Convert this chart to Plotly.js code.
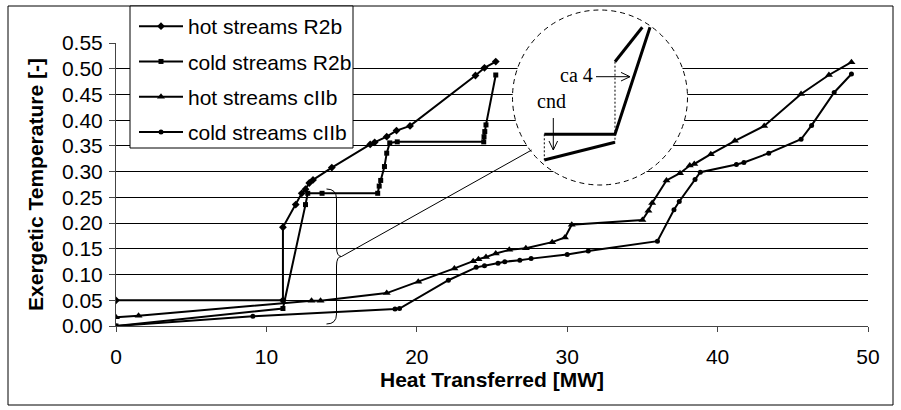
<!DOCTYPE html>
<html>
<head>
<meta charset="utf-8">
<script src="https://cdn.plot.ly/plotly-3.0.1.min.js"></script>
<style>html,body{margin:0;padding:0;background:#fff;}#chart{width:901px;height:410px;}</style>
</head>
<body>
<div id="chart"></div>
<script>
// ---- data ----
const hotR2bX = [0, 11.1, 11.1, 11.95, 12.35, 12.6, 12.85, 13.1, 14.35, 16.9, 17.2, 18.0, 18.65, 19.55, 23.9, 24.5, 25.25];
const hotR2bY = [0.05, 0.05, 0.192, 0.236, 0.258, 0.266, 0.278, 0.284, 0.308, 0.353, 0.357, 0.368, 0.38, 0.389, 0.487, 0.502, 0.514];

const coldR2bX = [0, 11.1, 12.6, 12.75, 13.7, 17.4, 17.5, 17.6, 17.85, 18.0, 18.2, 18.7, 24.45, 24.47, 24.52, 24.6, 25.25];
const coldR2bY = [0, 0.034, 0.236, 0.258, 0.258, 0.258, 0.272, 0.283, 0.31, 0.336, 0.356, 0.358, 0.358, 0.368, 0.378, 0.391, 0.488];

const hotCIIbX = [0, 1.5, 13.0, 13.6, 18.0, 20.1, 22.5, 23.75, 24.1, 24.6, 25.25, 26.15, 27.25, 29.0, 29.85, 30.3, 35.0, 35.4, 35.65, 36.6, 37.5, 38.15, 38.45, 39.55, 41.15, 43.1, 45.55, 47.4, 48.9];
const hotCIIbY = [0.017, 0.02, 0.049, 0.049, 0.064, 0.086, 0.112, 0.126, 0.13, 0.134, 0.141, 0.148, 0.151, 0.163, 0.172, 0.197, 0.206, 0.224, 0.239, 0.283, 0.297, 0.312, 0.315, 0.334, 0.36, 0.389, 0.451, 0.488, 0.513];

const coldCIIbX = [0, 9.1, 18.55, 18.85, 22.1, 23.95, 24.5, 25.4, 25.85, 26.85, 27.6, 30.0, 31.4, 36.0, 37.1, 37.45, 38.5, 38.85, 41.25, 41.75, 43.4, 45.55, 46.25, 47.75, 48.9];
const coldCIIbY = [0, 0.019, 0.033, 0.034, 0.089, 0.114, 0.117, 0.122, 0.125, 0.128, 0.131, 0.139, 0.146, 0.165, 0.226, 0.242, 0.285, 0.299, 0.314, 0.318, 0.336, 0.363, 0.39, 0.454, 0.49];

const seriesNames = ['hot streams R2b', 'cold streams R2b', 'hot streams cIIb', 'cold streams cIIb'];
const xTitle = 'Heat Transferred [MW]';
const yTitle = 'Exergetic Temperature [-]';
const insetLabels = ['cnd', 'ca 4'];

// ---- layout geometry (pixels) ----
const PL = 116, PR = 868, PT = 43, PB = 326;
const px = v => (v - PL) / (PR - PL);
const py = v => (PB - v) / (PB - PT);
const P = (x, y) => px(x).toFixed(5) + ',' + py(y).toFixed(5);

const FONT = 'Arial, "Liberation Sans", sans-serif';
const SERIF = '"Times New Roman", "Liberation Serif", serif';
const FS = 21;

const lineStyle = {color: '#000', width: 2};
const traces = [
  {x: hotR2bX, y: hotR2bY, name: seriesNames[0], legendgroup: 'a', mode: 'lines+markers', line: lineStyle,
   marker: {symbol: 'diamond', size: 6, color: '#000'}},
  {x: coldR2bX, y: coldR2bY, name: seriesNames[1], legendgroup: 'b', mode: 'lines+markers', line: lineStyle,
   marker: {symbol: 'square', size: 5, color: '#000'}},
  {x: hotCIIbX, y: hotCIIbY, name: seriesNames[2], legendgroup: 'c', mode: 'lines+markers', line: lineStyle,
   marker: {symbol: 'triangle-up', size: 7, color: '#000'}},
  {x: coldCIIbX, y: coldCIIbY, name: seriesNames[3], legendgroup: 'd', mode: 'lines+markers', line: lineStyle,
   marker: {symbol: 'circle', size: 5, color: '#000'}}
];

const thin = {color: '#000', width: 1};
const shapes = [
  // outer chart border
  {type: 'rect', xref: 'paper', yref: 'paper', x0: px(8), x1: px(893), y0: py(405), y1: py(6), line: thin, layer: 'below'},
  // legend box
  {type: 'rect', xref: 'paper', yref: 'paper', x0: px(130), x1: px(353), y0: py(148), y1: py(6), line: thin, fillcolor: '#fff', layer: 'above'},
  // inset circle
  {type: 'circle', xref: 'paper', yref: 'paper', x0: px(512.5), x1: px(687.5), y0: py(185), y1: py(10),
   line: {color: '#000', width: 1, dash: '5px,4px'}, fillcolor: '#fff', layer: 'above'},
  // inset thick lines
  {type: 'path', xref: 'paper', yref: 'paper', path: 'M' + P(544.3, 134.3) + 'L' + P(615, 134.3) + 'L' + P(650, 27.3), line: {color: '#000', width: 3}, layer: 'above'},
  {type: 'path', xref: 'paper', yref: 'paper', path: 'M' + P(544.3, 160) + 'L' + P(615, 142.3), line: {color: '#000', width: 3}, layer: 'above'},
  {type: 'path', xref: 'paper', yref: 'paper', path: 'M' + P(615, 61.7) + 'L' + P(642.3, 27.3), line: {color: '#000', width: 3}, layer: 'above'},
  // inset dotted verticals
  {type: 'path', xref: 'paper', yref: 'paper', path: 'M' + P(544.3, 134.3) + 'L' + P(544.3, 160), line: {color: '#000', width: 1, dash: '2px,2px'}, layer: 'above'},
  {type: 'path', xref: 'paper', yref: 'paper', path: 'M' + P(615, 61.7) + 'L' + P(615, 142.3), line: {color: '#000', width: 1, dash: '2px,2px'}, layer: 'above'},
  // arrows
  {type: 'path', xref: 'paper', yref: 'paper', path: 'M' + P(553.3, 118) + 'L' + P(553.3, 150) + 'M' + P(549, 141) + 'L' + P(553.3, 150) + 'L' + P(557.6, 141), line: thin, layer: 'above'},
  {type: 'path', xref: 'paper', yref: 'paper', path: 'M' + P(596, 76.7) + 'L' + P(630, 76.7) + 'M' + P(621, 72.4) + 'L' + P(630, 76.7) + 'L' + P(621, 81), line: thin, layer: 'above'},
  // connector from brace to circle
  {type: 'path', xref: 'paper', yref: 'paper', path: 'M' + P(341.5, 256.5) + 'L' + P(531.7, 150), line: thin, layer: 'above'},
  // curly brace
  {type: 'path', xref: 'paper', yref: 'paper',
   path: 'M' + P(326.5, 189) + 'Q' + P(336.5, 189) + ' ' + P(336.5, 199) + 'L' + P(336.5, 247) + 'Q' + P(336.5, 256.5) + ' ' + P(341.5, 256.5)
       + 'Q' + P(336.5, 256.5) + ' ' + P(336.5, 266) + 'L' + P(336.5, 314) + 'Q' + P(336.5, 324) + ' ' + P(326.5, 324),
   line: thin, layer: 'above'}
];

const annotations = [
  {xref: 'paper', yref: 'paper', x: px(535), y: py(101), xanchor: 'left', yanchor: 'middle', text: insetLabels[0], showarrow: false,
   font: {family: SERIF, size: 20, color: '#000'}},
  {xref: 'paper', yref: 'paper', x: px(558), y: py(75), xanchor: 'left', yanchor: 'middle', text: insetLabels[1], showarrow: false,
   font: {family: SERIF, size: 20, color: '#000'}}
];

const layout = {
  width: 901, height: 410,
  margin: {l: PL, r: 901 - PR, t: PT, b: 410 - PB, pad: 0, autoexpand: false},
  paper_bgcolor: '#fff', plot_bgcolor: '#fff',
  font: {family: FONT, size: FS, color: '#000'},
  showlegend: true,
  legend: {x: px(134), y: py(6), xanchor: 'left', yanchor: 'top', bgcolor: 'rgba(0,0,0,0)', borderwidth: 0,
           font: {family: FONT, size: FS, color: '#000'}, itemwidth: 44, traceorder: 'grouped', tracegroupgap: 5},
  xaxis: {range: [0, 50], dtick: 10, tick0: 0, showgrid: false, zeroline: false, showline: true, linecolor: '#444', linewidth: 1,
          ticks: 'outside', ticklen: 5, tickcolor: '#444', ticklabelstandoff: 7,
          title: {text: xTitle, font: {family: FONT, size: FS, color: '#000', weight: 'bold'}, standoff: 5}},
  yaxis: {range: [0, 0.5502], dtick: 0.05, tick0: 0, tickformat: '.2f', showgrid: true, gridcolor: '#000', gridwidth: 1,
          zeroline: false, showline: true, linecolor: '#444', linewidth: 1, ticks: 'outside', ticklen: 6, tickcolor: '#444',
          ticklabelstandoff: 2,
          title: {text: yTitle, font: {family: FONT, size: FS, color: '#000', weight: 'bold'}, standoff: 12}},
  shapes: shapes,
  annotations: annotations
};

Plotly.newPlot('chart', traces, layout, {displayModeBar: false, staticPlot: true});
</script>
</body>
</html>
